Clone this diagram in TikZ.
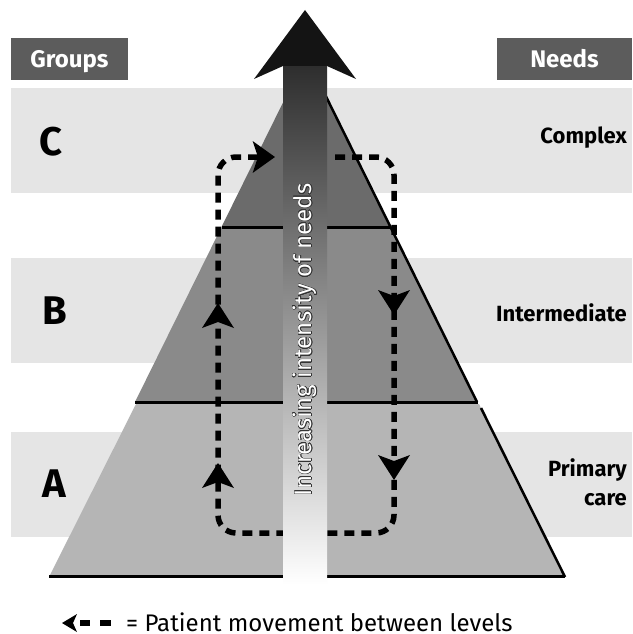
\documentclass[tikz,border=0pt]{standalone}
\usepackage{fontspec}
\setmainfont{Fira Sans}
\usepackage{contour}
\contourlength{0.5pt}
\contournumber{24}
\usetikzlibrary{arrows.meta}
\definecolor{bandgray}{HTML}{E5E5E5}
\definecolor{headgray}{HTML}{5C5C5C}
\definecolor{tierC}{HTML}{6B6B6B}
\definecolor{tierB}{HTML}{8A8A8A}
\definecolor{tierA}{HTML}{B5B5B5}
\begin{document}
\begin{tikzpicture}[x=1pt,y=-1pt,
  band/.style={fill=bandgray},
  header/.style={fill=headgray, text=white, font=\fontsize{24}{28}\selectfont\bfseries, inner sep=0pt, minimum height=42pt, text height=19pt, text depth=3pt},
  grouplabel/.style={font=\fontsize{40}{44}\selectfont\bfseries, inner sep=0pt},
  needlabel/.style={font=\fontsize{22}{29}\selectfont\bfseries, align=right, anchor=east, inner sep=0pt},
  tierline/.style={line width=3pt},
  edgeline/.style={line width=2.5pt},
  moveloop/.style={line width=5.5pt, dash pattern=on 10pt off 7pt, rounded corners=18pt},
  uparrow/.pic={\fill (0,0)--(16,25)--(0,19)--(-16,25)--cycle;},
]
\useasboundingbox (0,0) rectangle (632,634);
\fill[white] (0,0) rectangle (632,634);
% bands
\fill[band] (11,88) rectangle (632,193);
\fill[band] (11,258) rectangle (632,363);
\fill[band] (11,432) rectangle (632,537);
% headers
\node[header, minimum width=117pt] (groups) at (69.5,59) {Groups};
\node[header, minimum width=135pt] (needs) at (564.5,59) {Needs};
% tiers
\fill[tierC] (306,56) -- (390.5,227) -- (221.5,227) -- cycle;
\fill[tierB] (221.5,227) -- (390.5,227) -- (477,402) -- (135,402) -- cycle;
\fill[tierA] (136,404) -- (479,404) -- (565,577) -- (49,577) -- cycle;
\draw[tierline] (221.5,227) -- (390.5,227);
\draw[tierline] (135,402) -- (478,402);
\draw[tierline] (49,576) -- (565,576);
\draw[edgeline] (306,56) -- (390.5,227) -- (477,402);
\draw[edgeline] (481,408) -- (565,577);
% loop of patient movement
\coordinate (ts) at (335,157);
\coordinate (tr) at (394,157);
\coordinate (br) at (394,533);
\coordinate (bl) at (218,533);
\coordinate (tl) at (218,157);
\coordinate (te) at (275,157);
\draw[moveloop, -{Stealth[length=22pt,width=31pt,inset=5pt]}] (ts) -- (tr) -- (br) -- (bl) -- (tl) -- (te);
\pic at (218,303) {uparrow};
\pic at (218,463) {uparrow};
\pic[rotate=180] at (394,315) {uparrow};
\pic[rotate=180] at (394,480) {uparrow};
% central arrow
\shade[top color=black!82, middle color=black!48, bottom color=white] (283,66) rectangle (327,585);
\fill[black!92] (305,10) -- (356,79) -- (327,66) -- (283,66) -- (254,79) -- cycle;
\node[rotate=90, text=white, font=\fontsize{24}{28}\selectfont, inner sep=0pt] (intensity) at (305,340) {\contour{black!80}{Increasing intensity of needs}};
% labels
\node[grouplabel] (C) at (51,142) {C};
\node[grouplabel] (B) at (55,311) {B};
\node[grouplabel] (A) at (54,484) {A};
\node[needlabel] (complex) at (627,138) {Complex};
\node[needlabel] (inter) at (627,313) {Intermediate};
\node[needlabel] (primary) at (627,482) {Primary\\care};
% legend
\fill (62,623) -- (77,614) -- (73,623) -- (77,632) -- cycle;
\fill (80,620) rectangle (90,626);
\fill (100,620) rectangle (111,626);
\node[anchor=west, font=\fontsize{24}{28}\selectfont, inner sep=0pt] (legend) at (126,622) {= Patient movement between levels};
\end{tikzpicture}
\end{document}
